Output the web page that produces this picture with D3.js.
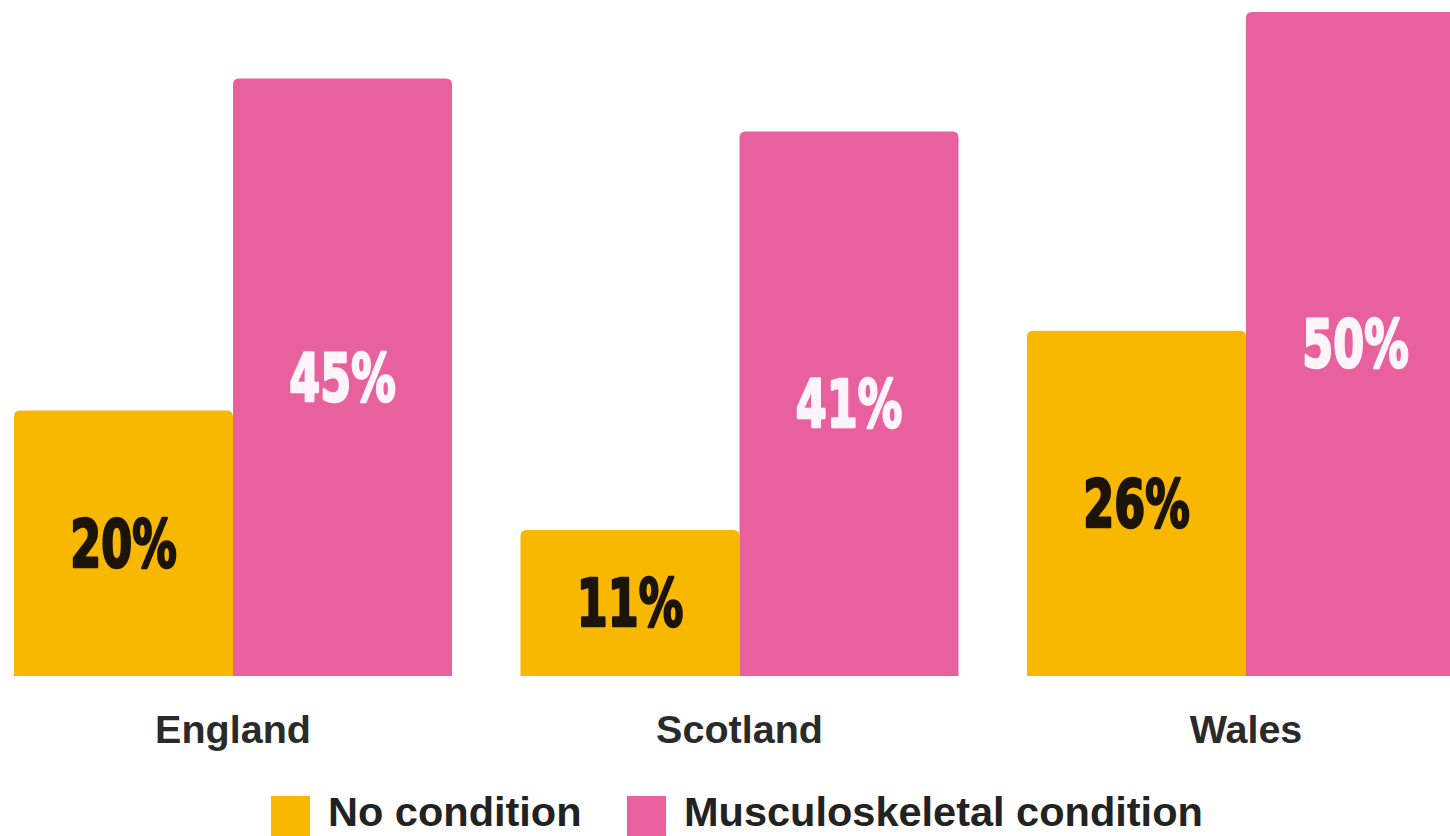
<!DOCTYPE html>
<html>
<head>
<meta charset="utf-8">
<script src="https://cdn.jsdelivr.net/npm/d3@7"></script>
<style>
  html, body { margin: 0; padding: 0; background: #ffffff; }
  svg { display: block; }
</style>
</head>
<body>
<svg id="chart" width="1450" height="836"></svg>
<script>
// Share of people in each nation, by musculoskeletal condition status
const nations = ["England", "Scotland", "Wales"];
const seriesNames = ["No condition", "Musculoskeletal condition"];
const noCondition = [20, 11, 26];
const musculoskeletal = [45, 41, 50];
const seriesColors = ["#F8B800", "#E8609E"];
const valueLabelColors = ["#1c1407", "#fff4f9"];

const svg = d3.select("#chart");

const baseline = 676;
const y = d3.scaleLinear().domain([0, 50]).range([baseline, 12]);

// Three groups of two bars; the last group runs past the right edge
const groupStep = 506.5;
const groupWidth = 438;
const x0 = d3.scaleBand()
  .domain(nations)
  .range([14, 14 + groupStep * (nations.length - 1) + groupWidth])
  .paddingInner((groupStep - groupWidth) / groupStep)
  .paddingOuter(0);

const x1 = d3.scaleBand()
  .domain(seriesNames)
  .range([0, x0.bandwidth()])
  .padding(0);

const rows = nations.map((n, i) => ({
  nation: n,
  values: [
    { key: seriesNames[0], value: noCondition[i], idx: 0 },
    { key: seriesNames[1], value: musculoskeletal[i], idx: 1 }
  ]
}));

// Bar with rounded top corners only
function topRoundedBar(x, yTop, w, h, r) {
  r = Math.min(r, w / 2, h);
  return `M${x},${yTop + h}` +
    `V${yTop + r}` +
    `Q${x},${yTop} ${x + r},${yTop}` +
    `H${x + w - r}` +
    `Q${x + w},${yTop} ${x + w},${yTop + r}` +
    `V${yTop + h}Z`;
}

const groups = svg.append("g")
  .selectAll("g.nation")
  .data(rows)
  .join("g")
  .attr("class", "nation")
  .attr("transform", d => `translate(${x0(d.nation)},0)`);

groups.selectAll("path.bar")
  .data(d => d.values)
  .join("path")
  .attr("class", "bar")
  .attr("fill", d => seriesColors[d.idx])
  .attr("d", d => topRoundedBar(x1(d.key), y(d.value), x1.bandwidth(), baseline - y(d.value), 6));

// Condensed heavy value labels, centred inside each bar
groups.selectAll("text.value")
  .data(d => d.values)
  .join("text")
  .attr("class", "value")
  .attr("transform", d =>
    `translate(${x1(d.key) + x1.bandwidth() / 2},${(y(d.value) + baseline) / 2}) scale(0.76,1)`)
  .attr("dy", "0.36em")
  .attr("text-anchor", "middle")
  .attr("font-family", "'DejaVu Sans Condensed', 'DejaVu Sans', sans-serif")
  .attr("font-weight", 700)
  .attr("font-size", 65)
  .attr("fill", d => valueLabelColors[d.idx])
  .attr("stroke", d => valueLabelColors[d.idx])
  .attr("stroke-width", 2.5)
  .attr("stroke-linejoin", "round")
  .text(d => `${d.value}%`);

// Nation names under each pair of bars
svg.append("g")
  .selectAll("text.nation-label")
  .data(nations)
  .join("text")
  .attr("class", "nation-label")
  .attr("x", d => x0(d) + x0.bandwidth() / 2)
  .attr("y", 743)
  .attr("text-anchor", "middle")
  .attr("font-family", "'Liberation Sans', Arial, sans-serif")
  .attr("font-weight", 700)
  .attr("font-size", 39.5)
  .attr("fill", "#2a2a2a")
  .text(d => d);

// Legend
const legendItems = [
  { name: seriesNames[0], color: seriesColors[0], x: 271 },
  { name: seriesNames[1], color: seriesColors[1], x: 627 }
];
const legend = svg.append("g").attr("class", "legend");
const item = legend.selectAll("g")
  .data(legendItems)
  .join("g")
  .attr("transform", d => `translate(${d.x},796)`);
item.append("rect")
  .attr("width", 39)
  .attr("height", 40)
  .attr("fill", d => d.color);
item.append("text")
  .attr("x", 57)
  .attr("y", 30)
  .attr("font-family", "'Liberation Sans', Arial, sans-serif")
  .attr("font-weight", 700)
  .attr("font-size", 41.5)
  .attr("fill", "#222222")
  .text(d => d.name);
</script>
</body>
</html>
